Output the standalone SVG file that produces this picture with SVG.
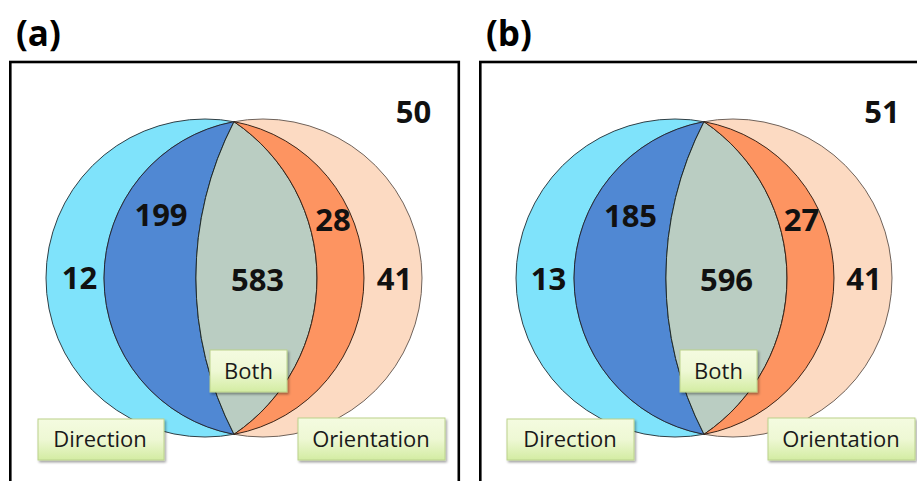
<svg xmlns="http://www.w3.org/2000/svg" width="917" height="481" viewBox="0 0 917 481">
<defs>
<linearGradient id="lbl" x1="0" y1="0" x2="0" y2="1">
<stop offset="0" stop-color="#F4FBE0"/>
<stop offset="0.5" stop-color="#EEF8D4"/>
<stop offset="1" stop-color="#D3ECA2"/>
</linearGradient>
<filter id="sh" x="-10%" y="-10%" width="130%" height="140%">
<feDropShadow dx="1.5" dy="2" stdDeviation="1.2" flood-color="#000" flood-opacity="0.35"/>
</filter>
</defs>
<style>
.frame{fill:none;stroke:#000;stroke-width:2.6}
.title{font-family:"Open Sans","Liberation Sans",sans-serif;font-weight:bold;font-size:35px;fill:#000}
.num{font-family:"Open Sans","Liberation Sans",sans-serif;font-weight:bold;font-size:31px;fill:#111;text-anchor:middle}
.lt{font-family:"Open Sans","Liberation Sans",sans-serif;font-size:22px;fill:#1a1a1a;text-anchor:middle}
.box{fill:url(#lbl);stroke:#BBD28C;stroke-width:1;filter:url(#sh)}
.dir{fill:#7FE3FB;stroke:#2f3f46;stroke-width:1}
.ori{fill:#FCDAC2;stroke:#6f625a;stroke-width:1}
.dk{fill:#5088D3;stroke:#1e2a3a;stroke-width:1}
.gr{fill:#BACDC2;stroke:#1e2a2a;stroke-width:1}
.or{fill:#FD9461;stroke:#3a2418;stroke-width:1}
</style>

<g id="panel-a">
<text class="title" x="16" y="46">(a)</text>
<rect id="frame-a" class="frame" x="10.3" y="62" width="448.5" height="430"/>
<g id="a-direction-set"><circle class="dir" cx="205" cy="278" r="159"/></g>
<g id="a-orientation-set"><circle class="ori" cx="263" cy="278" r="159"/></g>
<g id="a-direction-only-inner"><path class="dk" d="M234,121.67 A159,159 0 0 0 234,434.33 A340,340 0 0 1 234,121.67 Z"/></g>
<g id="a-both-region"><path class="gr" d="M234,121.67 A340,340 0 0 0 234,434.33 A188.7,188.7 0 0 0 234,121.67 Z"/></g>
<g id="a-orientation-only-inner"><path class="or" d="M234,121.67 A188.7,188.7 0 0 1 234,434.33 A159,159 0 0 0 234,121.67 Z"/></g>
<g id="a-numbers">
<text class="num" x="161" y="226">199</text>
<text class="num" x="79.5" y="289">12</text>
<text class="num" x="257.5" y="291">583</text>
<text class="num" x="333" y="231">28</text>
<text class="num" x="394.5" y="290">41</text>
<text class="num" x="413.5" y="123">50</text>
</g>
<g id="a-label-both"><rect class="box" x="210" y="350" width="77" height="42"/><text class="lt" x="248.5" y="379">Both</text></g>
<g id="a-label-direction"><rect class="box" x="38" y="419" width="126" height="41"/><text class="lt" x="100" y="447">Direction</text></g>
<g id="a-label-orientation"><rect class="box" x="298" y="418" width="147" height="42"/><text class="lt" x="371" y="447">Orientation</text></g>
</g>

<g id="panel-b" transform="translate(470,0)">
<text class="title" x="16" y="46">(b)</text>
<rect id="frame-b" class="frame" x="10.3" y="62" width="470" height="430"/>
<g id="b-direction-set"><circle class="dir" cx="205" cy="278" r="159"/></g>
<g id="b-orientation-set"><circle class="ori" cx="263" cy="278" r="159"/></g>
<g id="b-direction-only-inner"><path class="dk" d="M234,121.67 A159,159 0 0 0 234,434.33 A340,340 0 0 1 234,121.67 Z"/></g>
<g id="b-both-region"><path class="gr" d="M234,121.67 A340,340 0 0 0 234,434.33 A188.7,188.7 0 0 0 234,121.67 Z"/></g>
<g id="b-orientation-only-inner"><path class="or" d="M234,121.67 A188.7,188.7 0 0 1 234,434.33 A159,159 0 0 0 234,121.67 Z"/></g>
<g id="b-numbers">
<text class="num" x="160.5" y="227">185</text>
<text class="num" x="78.5" y="290">13</text>
<text class="num" x="256.5" y="291">596</text>
<text class="num" x="331.5" y="231">27</text>
<text class="num" x="394" y="290">41</text>
<text class="num" x="412" y="123">51</text>
</g>
<g id="b-label-both"><rect class="box" x="210" y="350" width="77" height="42"/><text class="lt" x="248.5" y="379">Both</text></g>
<g id="b-label-direction"><rect class="box" x="37" y="419" width="127" height="41"/><text class="lt" x="100" y="447">Direction</text></g>
<g id="b-label-orientation"><rect class="box" x="298" y="418" width="147" height="42"/><text class="lt" x="371" y="447">Orientation</text></g>
</g>
</svg>
